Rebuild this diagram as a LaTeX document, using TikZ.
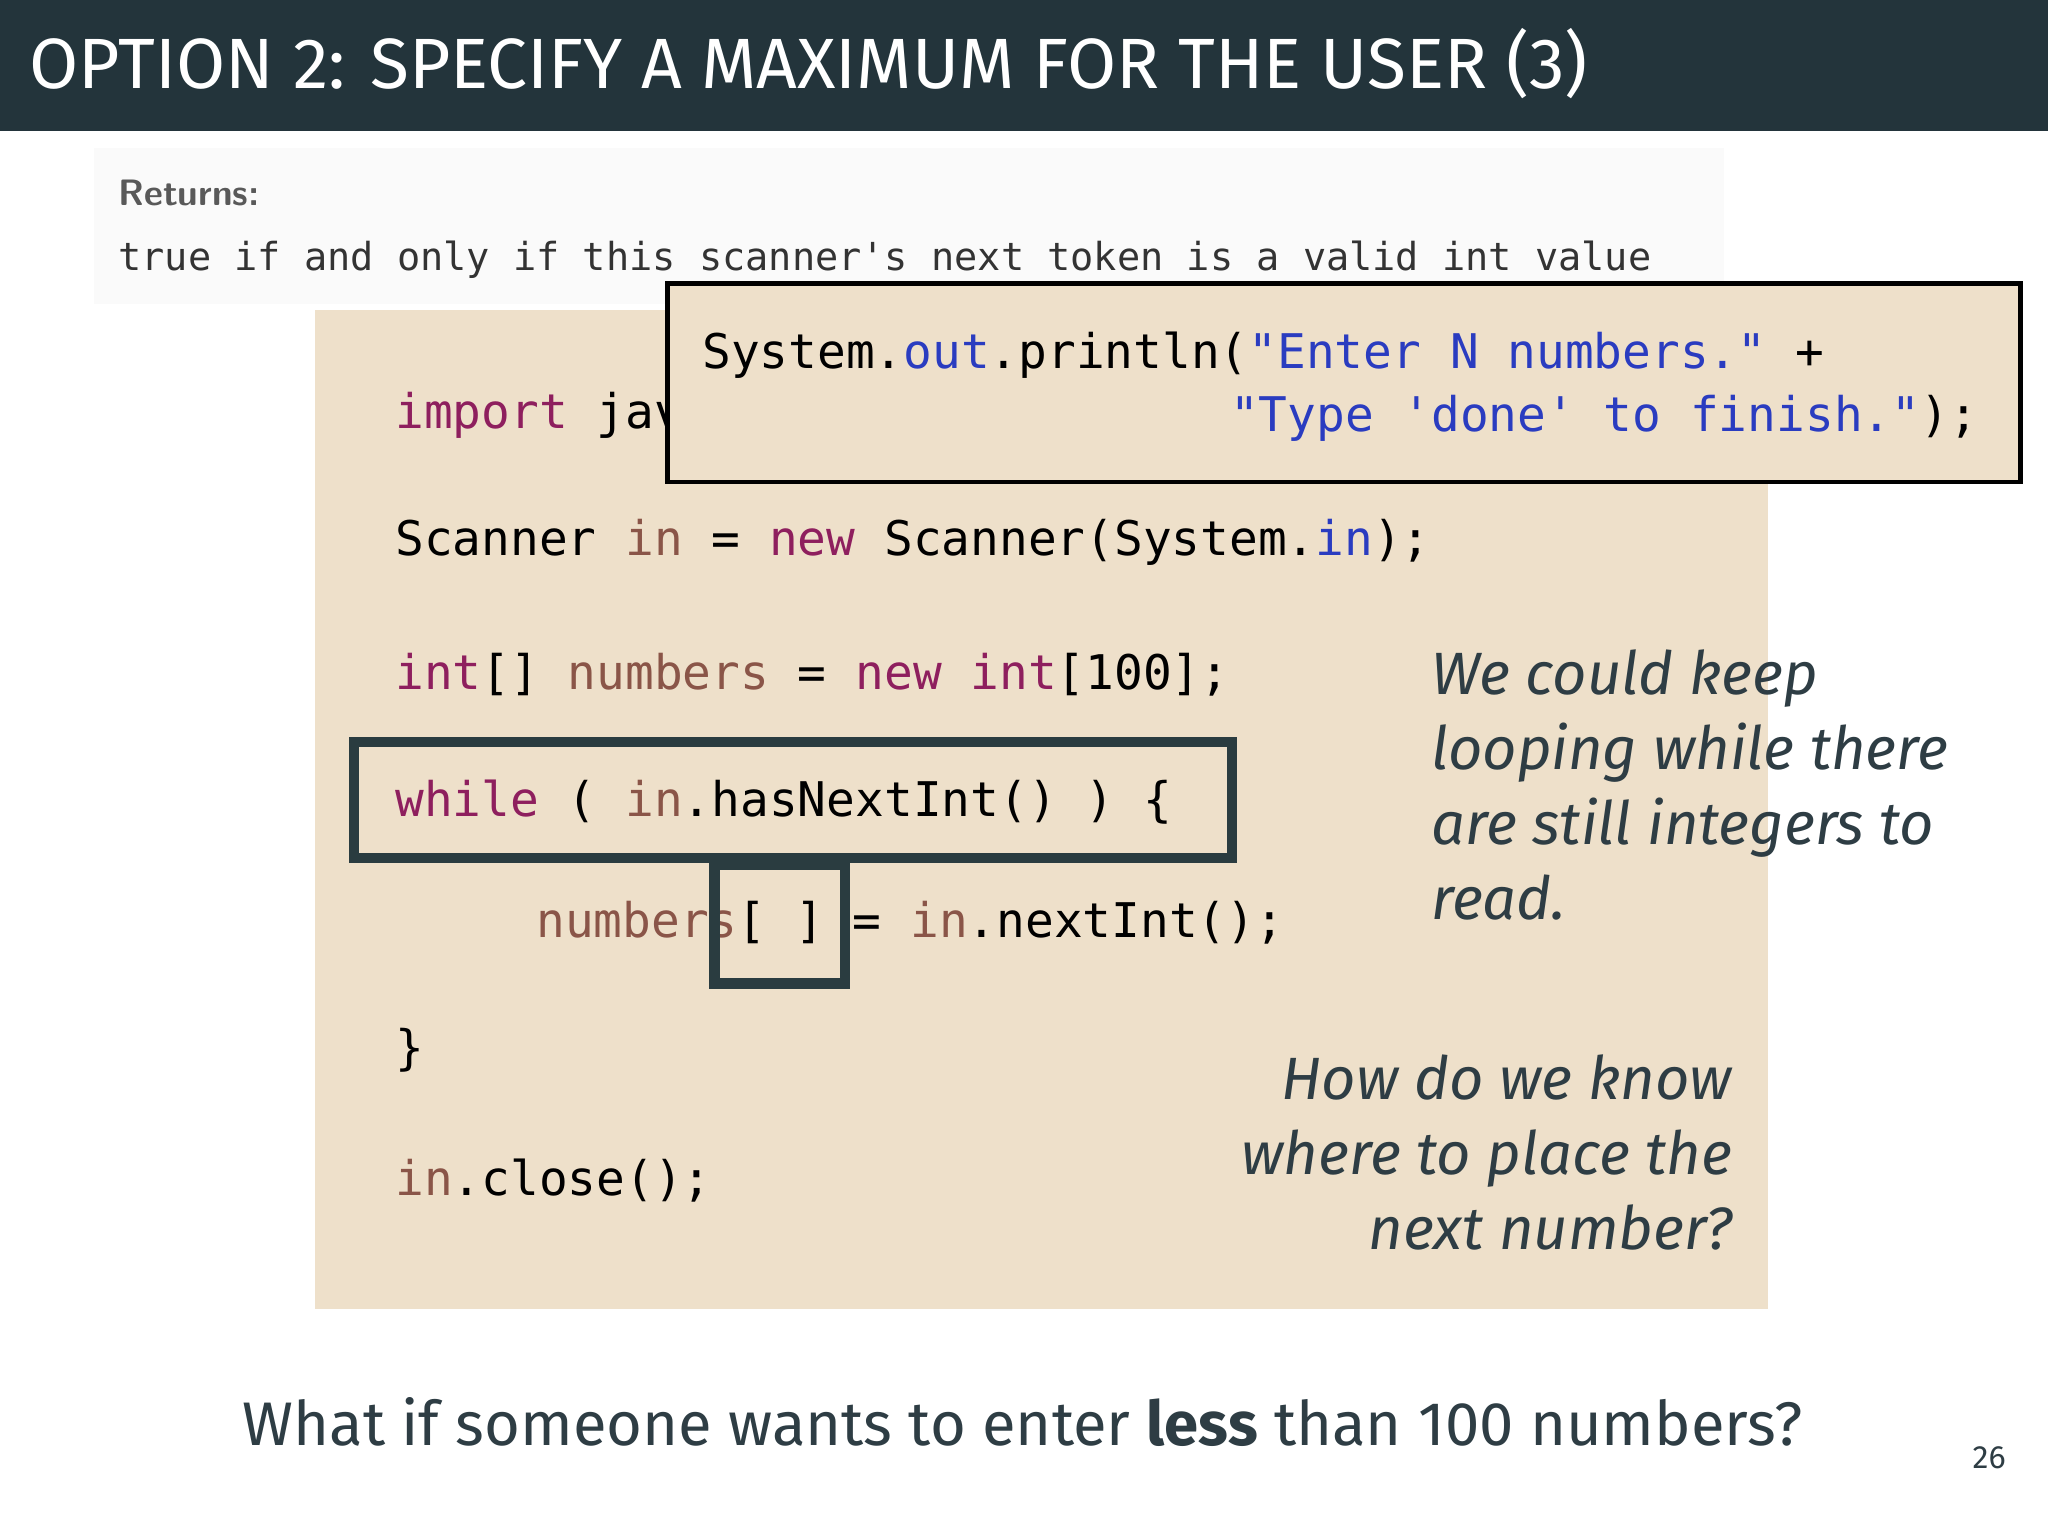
\documentclass[tikz,border=0pt]{standalone}
\usepackage{fontspec}
\setmainfont{Fira Sans}
\setmonofont{DejaVu Sans Mono}
\definecolor{bar}{HTML}{23343B}
\definecolor{beige}{HTML}{EEE0CA}
\definecolor{kw}{HTML}{8E1F5E}
\definecolor{idn}{HTML}{8A5548}
\definecolor{blu}{HTML}{2A3CC0}
\definecolor{txt}{HTML}{2E3D44}
\definecolor{boxc}{HTML}{2A3C40}
\newcommand{\K}[1]{\textcolor{kw}{#1}}
\newcommand{\I}[1]{\textcolor{idn}{#1}}
\newcommand{\B}[1]{\textcolor{blu}{#1}}
\tikzset{code/.style={anchor=base west,font=\ttfamily\fontsize{10.4}{12}\selectfont,inner sep=0},
 itx/.style={font=\itshape\fontsize{13}{16.3}\selectfont,text=txt,inner sep=0}}
\begin{document}
\begin{tikzpicture}[x=0.01cm,y=-0.01cm]
\useasboundingbox (0,0) rectangle (1568,1176);
\fill[white] (0,0) rectangle (1568,1176);
\fill[bar] (0,0) rectangle (1568,100);
\node[anchor=base west,text=white,font=\fontsize{15.5}{18}\selectfont,inner sep=0] (title) at (22,68) {OPTION 2: SPECIFY A MAXIMUM FOR THE USER (3)};
\fill[black!2] (72,113) rectangle (1320,233);
\node[anchor=base west,font=\sffamily\bfseries\fontsize{8}{10}\selectfont,text=black!65,inner sep=0] (ret) at (90,157) {Returns:};
\node[anchor=base west,font=\ttfamily\fontsize{8.4}{10}\selectfont,text=black!80,inner sep=0] (retv) at (90,207) {true if and only if this scanner's next token is a valid int value};
\fill[beige] (241,237) rectangle (1354,1002);
\node[code] (l1) at (302,328) {\K{import} java.util.Scanner;};
\node[code] (l2) at (302,425) {Scanner \I{in} = \K{new} Scanner(System.\B{in});};
\node[code] (l3) at (302,528) {\K{int}[] \I{numbers} = \K{new} \K{int}[100];};
\node[code] (l4) at (302,625) {\K{while} ( \I{in}.hasNextInt() ) \{};
\node[code] (l5) at (410,718) {\I{numbers}[ ] = \I{in}.nextInt();};
\node[code] (l6) at (302,815) {\}};
\node[code] (l7) at (302,915) {\I{in}.close();};
\draw[boxc,line width=2.2pt] (271,568) rectangle (943,657);
\draw[boxc,line width=2.2pt] (547,662) rectangle (647,753);
\draw[black,line width=1pt,fill=beige] (511,217) rectangle (1547,369);
\node[code] (p1) at (537,282) {System.\B{out}.println(\B{"Enter N numbers."} +};
\node[code,anchor=base east] (p2) at (1515,330) {\B{"Type 'done' to finish."});};
\node[itx,anchor=north west,align=left] (t1) at (1095,497) {We could keep\\looping while there\\are still integers to\\read.};
\node[itx,anchor=north east,align=right] (t2) at (1327,807) {How do we know\\where to place the\\next number?};
\node[anchor=base,text=txt,font=\fontsize{13.4}{16}\selectfont,inner sep=0] (q) at (783,1107) {What if someone wants to enter \textbf{less} than 100 numbers?};
\node[anchor=base,text=txt,font=\fontsize{7}{8}\selectfont,inner sep=0] (pg) at (1523,1124) {26};
\end{tikzpicture}
\end{document}
